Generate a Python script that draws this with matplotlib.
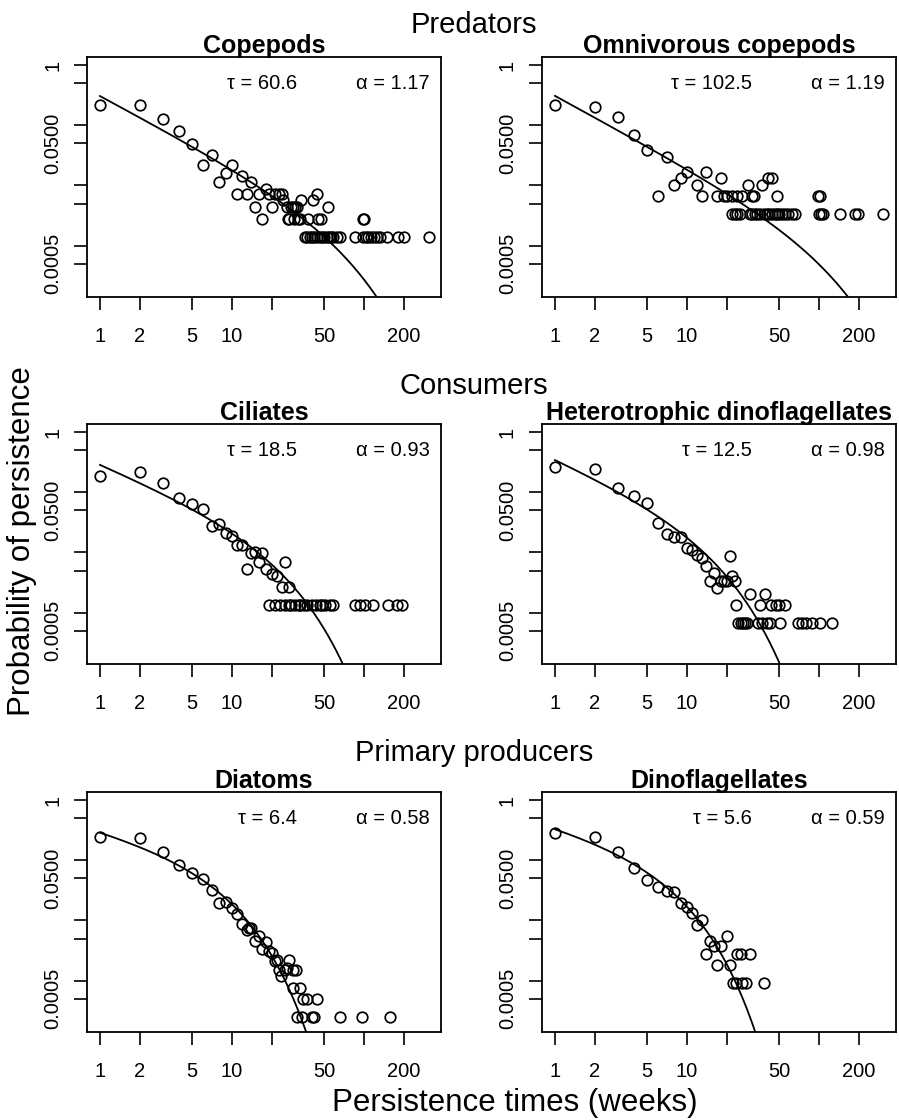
import numpy as np
import matplotlib
matplotlib.use("Agg")
import matplotlib.pyplot as plt
from matplotlib.ticker import NullLocator

plt.rcParams['font.family'] = ['Liberation Sans', 'DejaVu Sans']

# ---------------- data ----------------
titles = ["Copepods", "Omnivorous copepods", "Ciliates",
          "Heterotrophic dinoflagellates", "Diatoms", "Dinoflagellates"]
group_titles = ["Predators", "Consumers", "Primary producers"]
taus = [60.6, 102.5, 18.5, 12.5, 6.4, 5.6]
alphas = [1.17, 1.19, 0.93, 0.98, 0.58, 0.59]
scales = [0.31, 0.31, 0.30, 0.37, 0.335, 0.39]

cope_t = [1, 2, 3, 4, 5, 6, 7, 8, 9, 10, 11, 12, 13, 14, 15, 16, 17, 18, 19, 20,
          21, 22.5, 24, 24.5, 26, 28, 29, 30, 31, 26.5, 27, 29.5, 31.5, 33, 37.5,
          45, 47.5, 33.5, 41, 44, 53, 98, 100,
          36, 37, 39, 40, 42, 44, 46, 48, 50, 52, 54, 56, 58, 62, 66, 85, 98, 103,
          108, 113, 118, 125, 132, 148, 182, 200, 310]
cope_p = [0.214, 0.214, 0.125, 0.080, 0.0487, 0.0218, 0.0316, 0.0115, 0.0158, 0.0218,
          0.0072, 0.0145, 0.0072, 0.0113, 0.0043, 0.0072, 0.0028, 0.0087, 0.0072, 0.0043,
          0.0072, 0.0072, 0.0072, 0.0057, 0.0043, 0.0043, 0.0043, 0.0043, 0.0043,
          0.0028, 0.0028, 0.0028, 0.0028, 0.0028, 0.0028, 0.0028, 0.0028,
          0.0057, 0.0057, 0.0072, 0.0043, 0.0028, 0.0028,
          0.0014, 0.0014, 0.0014, 0.0014, 0.0014, 0.0014, 0.0014, 0.0014, 0.0014,
          0.0014, 0.0014, 0.0014, 0.0014, 0.0014, 0.0014, 0.0014, 0.0014, 0.0014,
          0.0014, 0.0014, 0.0014, 0.0014, 0.0014, 0.0014, 0.0014, 0.0014, 0.0014]

omni_t = [1, 2, 3, 4, 5, 6, 7, 8, 9, 10, 12, 13, 14, 17, 18, 19, 20, 22, 24, 26,
          29, 31, 32, 37, 41, 44, 48, 98, 101,
          22, 23, 24, 25, 30, 31, 33, 34, 36, 38, 40, 42, 44, 46, 48, 50, 52, 55,
          58, 62, 66, 100, 103, 107, 144, 187, 197, 305]
omni_p = [0.214, 0.198, 0.139, 0.0687, 0.0392, 0.0067, 0.030, 0.0100, 0.0133, 0.0167,
          0.0100, 0.0067, 0.0167, 0.0067, 0.0133, 0.0067, 0.0067, 0.0067, 0.0067, 0.0067,
          0.0100, 0.0067, 0.0067, 0.0100, 0.0133, 0.0133, 0.0067, 0.0067, 0.0067,
          0.0033, 0.0033, 0.0033, 0.0033, 0.0033, 0.0033, 0.0033, 0.0033, 0.0033,
          0.0033, 0.0033, 0.0033, 0.0033, 0.0033, 0.0033, 0.0033, 0.0033, 0.0033,
          0.0033, 0.0033, 0.0033, 0.0033, 0.0033, 0.0033, 0.0033, 0.0033, 0.0033, 0.0033]

cil_t = [1, 2, 3, 4, 5, 6, 7, 8, 9, 10, 11, 12, 13, 14, 15, 16, 17, 18, 20, 22,
         24, 25, 27,
         19, 21, 23, 25, 27, 28, 30, 32, 33, 35, 37, 40, 43, 46, 48, 51, 55, 58,
         85, 93, 101, 117, 153, 177, 193]
cil_p = [0.186, 0.217, 0.144, 0.079, 0.063, 0.052, 0.0275, 0.0296, 0.0207, 0.019,
         0.0133, 0.0133, 0.0054, 0.0097, 0.0103, 0.0068, 0.0097, 0.0052, 0.0044, 0.0040,
         0.0027, 0.0068, 0.0027,
         0.00134, 0.00134, 0.00134, 0.00134, 0.00134, 0.00134, 0.00134, 0.00134,
         0.00134, 0.00134, 0.00134, 0.00134, 0.00134, 0.00134, 0.00134, 0.00134,
         0.00134, 0.00134, 0.00134, 0.00134, 0.00134, 0.00134, 0.00134, 0.00134, 0.00134]

het_t = [1, 2, 3, 4, 5, 6, 7, 8, 9, 10, 11, 12, 13, 14, 15, 16, 17, 18, 19, 20,
         21, 22, 23, 23.7, 30, 35.7, 39, 43.6, 47, 50, 55,
         24.4, 25.5, 26.5, 27.5, 28.5, 34.5, 37, 40.5, 42.6, 50.6, 69, 74, 79, 88,
         101, 125]
het_p = [0.265, 0.24, 0.116, 0.0865, 0.0653, 0.0304, 0.020, 0.018, 0.018, 0.012,
         0.011, 0.0091, 0.0082, 0.0060, 0.0034, 0.0046, 0.0026, 0.0034, 0.0034, 0.0034,
         0.0087, 0.0041, 0.0034, 0.00134, 0.0020, 0.00134, 0.0020, 0.00134, 0.00134,
         0.00134, 0.00134,
         0.00066, 0.00066, 0.00066, 0.00066, 0.00066, 0.00066, 0.00066, 0.00066,
         0.00066, 0.00066, 0.00066, 0.00066, 0.00066, 0.00066, 0.00066, 0.00066]

dia_t = [1, 2, 3, 4, 5, 6, 7, 8, 9, 10, 11, 12, 13, 13.5, 14, 15, 16, 17, 18, 19,
         20, 21, 22, 22.5, 23.7, 25, 26, 27, 29, 30.5, 29.2, 32.7, 34.6, 36.7, 43.9,
         31, 34, 40, 42, 66, 97, 158]
dia_p = [0.246, 0.236, 0.139, 0.083, 0.062, 0.048, 0.032, 0.0192, 0.020, 0.0158,
         0.0128, 0.0086, 0.0069, 0.0074, 0.0076, 0.0045, 0.0055, 0.0034, 0.0044, 0.0031,
         0.0029, 0.0021, 0.0022, 0.0015, 0.0012, 0.0015, 0.00165, 0.0022, 0.0015, 0.0015,
         0.00074, 0.00074, 0.00049, 0.00049, 0.00049,
         0.000245, 0.000245, 0.000245, 0.000245, 0.000245, 0.000245, 0.000245]

din_t = [1, 2, 3, 4, 5, 6, 7, 8, 9, 10, 11, 12, 13, 14, 15, 16, 17, 18, 20, 21,
         24, 25.5, 30, 22.4, 23.5, 26, 28, 38]
din_p = [0.287, 0.246, 0.135, 0.073, 0.047, 0.0363, 0.0312, 0.030, 0.0192, 0.0169,
         0.0131, 0.0084, 0.0102, 0.0028, 0.0046, 0.0037, 0.0018, 0.0037, 0.0055, 0.0018,
         0.0028, 0.0028, 0.0028, 0.00092, 0.00092, 0.00092, 0.00092, 0.00092]

series_t = [cope_t, omni_t, cil_t, het_t, dia_t, din_t]
series_p = [cope_p, omni_p, cil_p, het_p, dia_p, din_p]

x_ticks = [1, 2, 5, 10, 20, 50, 100, 200]
x_ticklabels = ["1", "2", "5", "10", "", "50", "", "200"]
y_ticks = [1, 0.5, 0.1, 0.05, 0.01, 0.005, 0.001, 0.0005]
y_ticklabels = ["1", "", "", "0.0500", "", "", "", "0.0005"]

# ---------------- layout ----------------
W, H = 899, 1120
fig = plt.figure(figsize=(W / 100, H / 100), dpi=100)
lefts_px = [87, 542]
tops_px = [57, 424, 792]
box_w, box_h = 354, 240
head_baseline_px = [33, 394, 761]

for i in range(6):
    r, c = divmod(i, 2)
    ax = fig.add_axes([lefts_px[c] / W, 1 - (tops_px[r] + box_h) / H,
                       box_w / W, box_h / H])
    ax.set_xscale('log')
    ax.set_yscale('log')
    ax.set_xlim(10 ** -0.0985, 10 ** 2.583)
    ax.set_ylim(10 ** -3.854, 10 ** 0.133)

    ax.plot(series_t[i], series_p[i], 'o', mfc='none', mec='black',
            ms=7.6, mew=1.25, ls='none')
    tt = np.logspace(0, 2.7, 600)
    pp = scales[i] * tt ** (-alphas[i]) * np.exp(-tt / taus[i])
    ax.plot(tt, pp, color='black', lw=1.3)

    ax.set_xticks(x_ticks)
    ax.set_xticklabels(x_ticklabels)
    ax.set_yticks(y_ticks)
    ax.set_yticklabels(y_ticklabels, rotation=90, va='center')
    ax.xaxis.set_minor_locator(NullLocator())
    ax.yaxis.set_minor_locator(NullLocator())
    ax.tick_params(axis='x', direction='out', length=9.5, width=1.2,
                   labelsize=14.5, pad=12, colors='black')
    ax.tick_params(axis='y', direction='out', length=9.5, width=1.2,
                   labelsize=14.5, pad=8.5, colors='black')
    for s in ax.spines.values():
        s.set_linewidth(1.3)

    ax.text(0.593, 0.89, f"\u03c4 = {taus[i]}", transform=ax.transAxes,
            ha='right', va='center', fontsize=14.5)
    ax.text(0.969, 0.89, f"\u03b1 = {alphas[i]}", transform=ax.transAxes,
            ha='right', va='center', fontsize=14.5)
    ax.text(0.5, 1.017, titles[i], transform=ax.transAxes, ha='center',
            va='baseline', fontsize=18, fontweight='bold')

for r in range(3):
    fig.text(474 / W, 1 - head_baseline_px[r] / H, group_titles[r],
             ha='center', va='baseline', fontsize=21)

fig.text(22 / W, 1 - 541 / H, "Probability of persistence", rotation=90,
         ha='center', va='center', fontsize=22.5)
fig.text(515 / W, 1 - 1111 / H, "Persistence times (weeks)",
         ha='center', va='baseline', fontsize=22.5)

fig.savefig("out.png", dpi=100)
